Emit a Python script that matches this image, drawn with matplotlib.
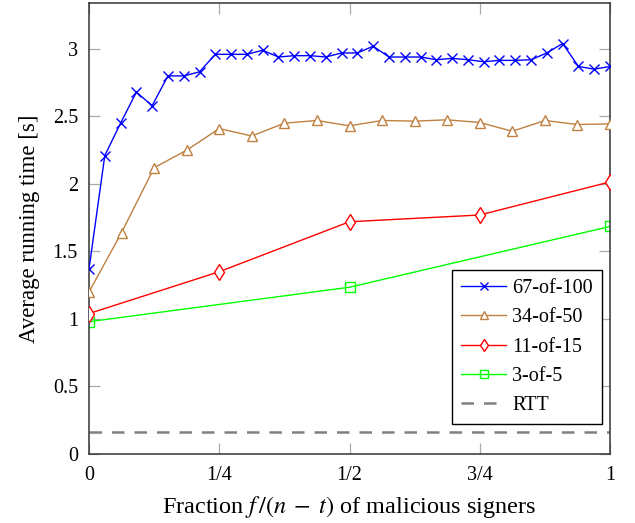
import matplotlib
matplotlib.use("Agg")
import matplotlib.pyplot as plt
import numpy as np

plt.rcParams['font.family'] = ['Liberation Serif', 'DejaVu Serif']
plt.rcParams['mathtext.fontset'] = 'stix'

# 67-of-100 (n - t = 33)
blue_k = list(range(34))
blue_y = [1.37, 2.21, 2.45, 2.68, 2.58, 2.80, 2.80, 2.83, 2.96, 2.96, 2.96, 2.99,
          2.94, 2.95, 2.95, 2.94, 2.97, 2.97, 3.02, 2.94, 2.94, 2.94, 2.92, 2.93,
          2.92, 2.905, 2.915, 2.915, 2.92, 2.97, 3.04, 2.87, 2.85, 2.87]
# 34-of-50 (n - t = 16)
brown_k = list(range(17))
brown_y = [1.20, 1.64, 2.12, 2.25, 2.41, 2.355, 2.45, 2.47, 2.43, 2.47, 2.465,
           2.475, 2.455, 2.39, 2.47, 2.44, 2.445]
# 11-of-15 (n - t = 4)
red_k = list(range(5))
red_y = [1.04, 1.35, 1.72, 1.77, 2.015]
# 3-of-5 (n - t = 2)
green_k = list(range(3))
green_y = [0.98, 1.235, 1.685]
rtt = 0.165

xticks = [0, 0.25, 0.5, 0.75, 1]
xticklabels = ['0', '1/4', '1/2', '3/4', '1']
yticks = [0, 0.5, 1, 1.5, 2, 2.5, 3]
yticklabels = ['0', '0.5', '1', '1.5', '2', '2.5', '3']

fig = plt.figure(figsize=(6.35, 5.23), dpi=100)
ax = fig.add_axes([89/635, (523-454)/523, (610-89)/635, (454-3)/523])

lw = 1.0
ax.plot(np.array(blue_k)/33, blue_y, color='#0000ff', lw=lw, marker='x',
        ms=7, mew=1.0, label='67-of-100', zorder=5)
ax.plot(np.array(brown_k)/16, brown_y, color='#bf8040', lw=lw, marker='^',
        ms=7.5, mew=1.0, mfc='white', label='34-of-50', zorder=4)
ax.plot(np.array(red_k)/4, red_y, color='#ff0000', lw=lw, marker='d',
        ms=8, mew=1.0, mfc='white', label='11-of-15', zorder=3)
ax.plot(np.array(green_k)/2, green_y, color='#00ff00', lw=lw, marker='s',
        ms=7.5, mew=1.0, mfc='none', label='3-of-5', zorder=2)
ax.axhline(rtt, color='#808080', lw=1.8, ls=(0, (5, 4)), label='RTT', zorder=1)

ax.set_xlim(0, 1)
ax.set_ylim(0, 3.34)
ax.set_xticks(xticks)
ax.set_xticklabels(xticklabels)
ax.set_yticks(yticks)
ax.set_yticklabels(yticklabels)
ax.tick_params(direction='in', length=8, width=0.9, color='#aaaaaa',
               top=True, right=True, labelsize=14.5)
ax.tick_params(axis='y', pad=8)
ax.tick_params(axis='x', pad=9)
for s in ax.spines.values():
    s.set_color('#333333')
    s.set_linewidth(1.1)

ax.set_xlabel(r'Fraction $f\,/(n\;-\;t)$ of malicious signers', fontsize=17.5, labelpad=6)
ax.set_ylabel('Average running time [s]', fontsize=16.5, labelpad=9)

leg = ax.legend(loc='lower right', fontsize=14.5, frameon=True, fancybox=False,
                edgecolor='black', framealpha=1, handlelength=2.25,
                handletextpad=0.3, borderpad=0.45,
                borderaxespad=0.0, labelspacing=0.5, markerscale=0.75,
                bbox_to_anchor=(0.985, 0.0665))
leg.get_frame().set_linewidth(1.0)

fig.savefig('out.png', dpi=100)
